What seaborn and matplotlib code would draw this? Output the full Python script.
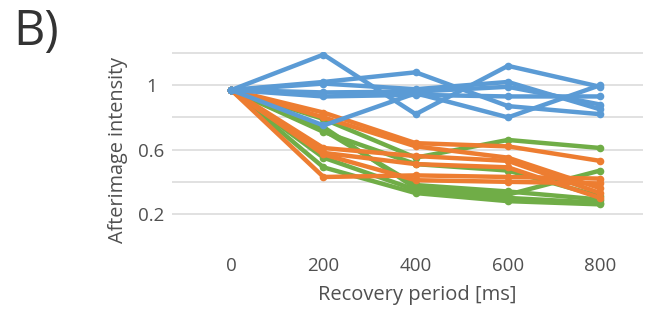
import numpy as np
import pandas as pd
import seaborn as sns
import matplotlib.pyplot as plt
from matplotlib.ticker import FixedLocator

sns.set_style("white")
plt.rcParams['font.family'] = ['Open Sans', 'DejaVu Sans']

# recovery period (ms)
periods = [0, 200, 400, 600, 800]

# afterimage intensity per subject
blue = [
    [0.97, 1.19, 0.82, 1.12, 0.99],
    [0.97, 0.75, 0.95, 0.80, 1.00],
    [0.97, 1.02, 1.08, 0.87, 0.82],
    [0.97, 1.01, 0.975, 1.02, 0.85],
    [0.97, 0.955, 0.96, 0.99, 0.88],
    [0.97, 0.93, 0.94, 0.93, 0.93],
]
orange = [
    [0.97, 0.83, 0.64, 0.62, 0.53],
    [0.97, 0.80, 0.62, 0.55, 0.36],
    [0.97, 0.61, 0.56, 0.53, 0.33],
    [0.97, 0.58, 0.51, 0.49, 0.30],
    [0.97, 0.43, 0.44, 0.43, 0.42],
    [0.97, 0.57, 0.41, 0.40, 0.39],
]
green = [
    [0.97, 0.79, 0.55, 0.66, 0.61],
    [0.97, 0.71, 0.51, 0.47, 0.31],
    [0.97, 0.74, 0.36, 0.32, 0.47],
    [0.97, 0.55, 0.35, 0.30, 0.27],
    [0.97, 0.49, 0.33, 0.28, 0.26],
    [0.97, 0.72, 0.38, 0.34, 0.29],
]

rows = []
for name, group in [('green', green), ('orange', orange), ('blue', blue)]:
    for i, subj in enumerate(group):
        for p, v in zip(periods, subj):
            rows.append({'group': name, 'subject': f'{name}{i}', 'period': p, 'intensity': v})
df = pd.DataFrame(rows)

palette = {'blue': '#5B9BD5', 'orange': '#ED7D31', 'green': '#70AD47'}
txt = '#505050'

fig = plt.figure(figsize=(6.45, 3.18), dpi=100)
# y range padded a little so the 0.2 and 1.2 gridlines are not clipped
ax = fig.add_axes([0.267, 1 - 215 / 318, 0.73, 163 / 318])

sns.lineplot(data=df, x='period', y='intensity', hue='group', units='subject',
             estimator=None, hue_order=['green', 'orange', 'blue'], palette=palette,
             marker='o', markersize=5.5, markeredgewidth=0, linewidth=3.2,
             legend=False, ax=ax)

ax.set_xlim(-128, 893)
ax.set_ylim(0.194, 1.206)
ax.set_xticks(periods)
ax.yaxis.set_major_locator(FixedLocator([0.2, 0.6, 1.0]))
ax.yaxis.set_minor_locator(FixedLocator([0.4, 0.8, 1.2]))
ax.set_yticklabels(['0.2', '0.6', '1'])
ax.grid(True, which='both', axis='y', color='#D9D9D9', linewidth=1.1)
ax.set_axisbelow(True)
for s in ax.spines.values():
    s.set_visible(False)
ax.tick_params(axis='both', which='both', length=0, labelsize=13.5, colors=txt)
ax.tick_params(axis='x', pad=30)
ax.tick_params(axis='y', pad=15)
for lab in ax.get_yticklabels():
    lab.set_horizontalalignment('center')

ax.set_xlabel('Recovery period [ms]', fontsize=14.5, color=txt)
ax.set_ylabel('Afterimage intensity', fontsize=14.3, color=txt)
ax.xaxis.set_label_coords(0.52, -0.43)
ax.yaxis.set_label_coords(-0.094, 0.40)

fig.text(0.02, 0.975, 'B)', fontsize=35, color='#333333', va='top', ha='left')

fig.savefig('out.png', dpi=100)
